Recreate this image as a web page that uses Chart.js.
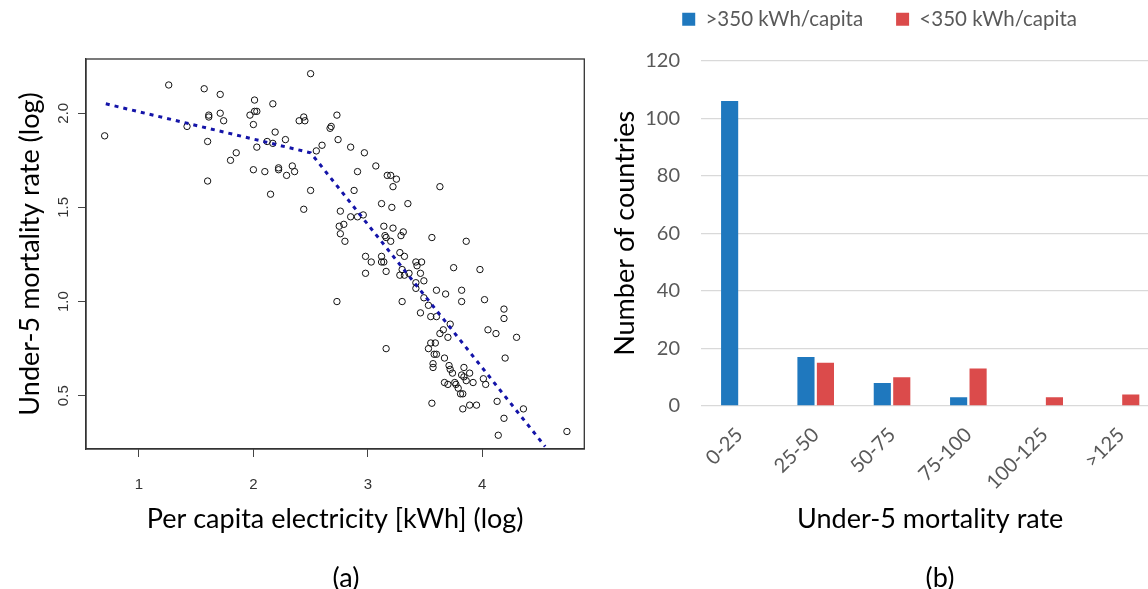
<!DOCTYPE html>
<html>
<head>
<meta charset="utf-8">
<script src="https://cdn.jsdelivr.net/npm/chart.js@4.4.1/dist/chart.umd.min.js"></script>
<style>
    html, body { margin: 0; padding: 0; background: #fff; }
    body { position: relative; width: 1148px; height: 589px; overflow: hidden; }
    .panel { position: absolute; }
    #wrap-a { left: 0; top: 0; width: 600px; height: 589px; }
    #wrap-b { left: 600px; top: -24px; width: 566px; height: 613px; }
    .caption { position: absolute; font-family: Lato, sans-serif; font-size: 27px; color: #000;
               transform: translate(-50%, -50%); white-space: nowrap; }
</style>
</head>
<body>
<div class="panel" id="wrap-a"><canvas id="scatterChart" width="600" height="589"></canvas></div>
<div class="panel" id="wrap-b"><canvas id="barChart" width="566" height="613"></canvas></div>
<div class="caption" style="left:346px; top:576px;">(a)</div>
<div class="caption" style="left:940px; top:576px;">(b)</div>

<script>
// --- (a) scatter: per capita electricity vs under-5 mortality (both log10) ---
const elecLog = [
    0.70, 1.26, 1.57, 1.71, 2.50, 2.01, 2.17, 1.61, 1.61, 1.71,
    1.74, 1.97, 2.01, 2.03, 2.00, 1.42, 2.19, 2.40, 2.44, 2.45,
    2.67, 2.68, 1.60, 2.12, 2.03, 2.28, 2.55, 2.60, 1.80, 1.85,
    2.00, 2.10, 2.22, 2.22, 2.29, 2.34, 2.36, 1.60, 2.15, 2.50,
    2.44, 2.73, 2.74, 2.17, 2.85, 2.97, 2.91, 3.07, 3.17, 3.20,
    3.25, 3.22, 3.63, 2.88, 3.12, 3.21, 3.35, 2.76, 2.85, 2.91,
    2.96, 2.75, 2.79, 2.76, 2.80, 3.14, 3.22, 3.15, 3.16, 3.20,
    3.29, 3.31, 3.56, 3.86, 2.98, 3.03, 2.98, 3.12, 3.12, 3.14,
    3.16, 3.28, 3.32, 3.28, 3.30, 3.32, 3.36, 3.42, 3.47, 3.43,
    3.46, 3.49, 3.42, 3.42, 3.75, 3.98, 2.73, 3.30, 3.49, 3.53,
    3.60, 3.68, 3.82, 3.82, 4.02, 3.46, 3.55, 3.60, 4.19, 4.19,
    3.72, 3.66, 3.70, 3.63, 4.05, 4.12, 4.30, 3.16, 3.55, 3.59,
    3.53, 3.58, 3.60, 3.67, 3.57, 3.57, 3.71, 3.72, 3.74, 3.84,
    3.89, 3.82, 3.84, 3.86, 3.92, 4.01, 4.03, 4.20, 3.67, 3.70,
    3.76, 3.77, 3.79, 3.81, 3.83, 3.56, 3.83, 3.89, 3.95, 4.13,
    4.19, 4.36, 4.14, 4.74
];
const mortLog = [
    1.88, 2.15, 2.13, 2.10, 2.21, 2.07, 2.05, 1.98, 1.99, 2.00,
    1.96, 1.99, 2.01, 2.01, 1.94, 1.93, 1.90, 1.96, 1.98, 1.96,
    1.92, 1.93, 1.85, 1.85, 1.82, 1.86, 1.80, 1.83, 1.75, 1.79,
    1.70, 1.69, 1.71, 1.70, 1.67, 1.72, 1.69, 1.64, 1.57, 1.59,
    1.49, 1.99, 1.86, 1.84, 1.82, 1.79, 1.69, 1.72, 1.67, 1.67,
    1.65, 1.61, 1.61, 1.59, 1.52, 1.50, 1.52, 1.48, 1.45, 1.45,
    1.46, 1.40, 1.41, 1.36, 1.32, 1.40, 1.39, 1.35, 1.34, 1.32,
    1.35, 1.37, 1.34, 1.32, 1.24, 1.21, 1.15, 1.24, 1.21, 1.21,
    1.16, 1.26, 1.24, 1.14, 1.17, 1.14, 1.15, 1.21, 1.21, 1.19,
    1.15, 1.11, 1.10, 1.07, 1.18, 1.17, 1.00, 1.00, 1.02, 0.98,
    1.06, 1.04, 1.06, 1.00, 1.01, 0.94, 0.92, 0.92, 0.96, 0.91,
    0.88, 0.85, 0.81, 0.83, 0.85, 0.83, 0.81, 0.75, 0.78, 0.78,
    0.75, 0.72, 0.72, 0.70, 0.67, 0.65, 0.66, 0.64, 0.62, 0.65,
    0.62, 0.61, 0.60, 0.58, 0.57, 0.59, 0.56, 0.70, 0.57, 0.56,
    0.57, 0.56, 0.54, 0.51, 0.51, 0.46, 0.43, 0.45, 0.45, 0.47,
    0.38, 0.43, 0.29, 0.31
];
// piecewise fit drawn as dotted blue line
const trendX = [0.71, 2.50, 4.55];
const trendY = [2.05, 1.79, 0.23];

const xTicksA = [1, 2, 3, 4];
const yTicksA = [0.5, 1.0, 1.5, 2.0];
const yTickLabelsA = ['0.5', '1.0', '1.5', '2.0'];

// --- (b) histogram of under-5 mortality by electricity group ---
const mortalityBins = ['0-25', '25-50', '50-75', '75-100', '100-125', '>125'];
const above350 = [106, 17, 8, 3, 0, 0];
const below350 = [0, 15, 10, 13, 3, 4];
const yTicksB = [0, 20, 40, 60, 80, 100, 120];

const titleFont = { family: 'Lato, sans-serif', size: 27, lineHeight: 1.2 };

// draws the closed frame around panel (a)
const frameBox = {
    id: 'frameBox',
    afterDraw(chart) {
        const { ctx, chartArea: a } = chart;
        ctx.save();
        ctx.strokeStyle = '#333';
        ctx.lineWidth = 1.3;
        ctx.strokeRect(a.left, a.top, a.right - a.left, a.bottom - a.top);
        ctx.restore();
    }
};

// gives the legend of panel (b) a fixed height so the plot sits lower
const legendHeight = {
    id: 'legendHeight',
    beforeLayout(chart) {
        const lg = chart.legend;
        if (lg && !lg._fixedFit) {
            const fit = lg.fit;
            lg.fit = function () { fit.call(this); this.height = 84.7; };
            lg._fixedFit = true;
        }
    }
};

new Chart(document.getElementById('scatterChart'), {
    type: 'scatter',
    data: {
        datasets: [{
            type: 'line',
            data: trendX.map((x, i) => ({ x, y: trendY[i] })),
            borderColor: '#1414a8',
            borderWidth: 3,
            borderDash: [4, 5],
            pointRadius: 0,
            fill: false,
            tension: 0
        }, {
            data: elecLog.map((x, i) => ({ x, y: mortLog[i] })),
            pointStyle: 'circle',
            pointRadius: 3.2,
            pointBorderWidth: 1,
            pointBorderColor: '#111',
            pointBackgroundColor: 'rgba(0,0,0,0)'
        }]
    },
    options: {
        responsive: false,
        animation: false,
        layout: { padding: { top: 59, right: 15.7, left: 0, bottom: 0 } },
        plugins: { legend: { display: false }, tooltip: { enabled: false } },
        scales: {
            x: {
                type: 'linear',
                min: 0.537, max: 4.892,
                afterBuildTicks: (s) => { s.ticks = xTicksA.map(v => ({ value: v })); },
                afterFit: (s) => { s.height = 140; },
                grid: { drawOnChartArea: false, tickLength: 8, color: '#444' },
                border: { color: '#333', width: 1.3 },
                ticks: {
                    padding: 19, color: '#333',
                    font: { family: 'Liberation Sans, sans-serif', size: 15 },
                    callback: (v) => String(v)
                },
                title: {
                    display: true, text: 'Per capita electricity [kWh] (log)',
                    color: '#000', font: titleFont, padding: { top: 0, bottom: 53.8 }
                }
            },
            y: {
                type: 'linear',
                min: 0.217, max: 2.288,
                afterBuildTicks: (s) => { s.ticks = yTicksA.map(v => ({ value: v })); },
                afterFit: (s) => { s.width = 86; },
                grid: { drawOnChartArea: false, tickLength: 8, color: '#444' },
                border: { color: '#333', width: 1.3 },
                ticks: {
                    padding: 4, color: '#333', minRotation: 90, maxRotation: 90,
                    crossAlign: 'center',
                    font: { family: 'Liberation Sans, sans-serif', size: 15 },
                    callback: (v, i) => yTickLabelsA[i]
                },
                title: {
                    display: true, text: 'Under-5 mortality rate (log)',
                    color: '#000', font: titleFont, padding: { top: 13.8, bottom: 0 }
                }
            }
        }
    },
    plugins: [frameBox]
});

new Chart(document.getElementById('barChart'), {
    type: 'bar',
    data: {
        labels: mortalityBins,
        datasets: [{
            label: '>350 kWh/capita',
            data: above350,
            backgroundColor: '#1f78be',
            borderWidth: 0
        }, {
            label: '<350 kWh/capita',
            data: below350,
            backgroundColor: '#db4b4b',
            borderWidth: 0
        }]
    },
    options: {
        responsive: false,
        animation: false,
        categoryPercentage: 0.51,
        barPercentage: 0.88,
        layout: { padding: { top: 0, right: 6.8, left: 0, bottom: 0 } },
        plugins: {
            tooltip: { enabled: false },
            legend: {
                position: 'top',
                labels: {
                    boxWidth: 13, boxHeight: 13, padding: 33, color: '#595959',
                    font: { family: 'Lato, sans-serif', size: 20.5 }
                }
            }
        },
        scales: {
            x: {
                afterFit: (s) => { s.height = 183; },
                grid: { display: false },
                border: { display: false },
                ticks: {
                    minRotation: 45, maxRotation: 45, padding: 9, color: '#595959',
                    font: { family: 'Lato, sans-serif', size: 20 }
                },
                title: {
                    display: true, text: 'Under-5 mortality rate',
                    color: '#000', font: titleFont, padding: { top: 0, bottom: 53.8 }
                }
            },
            y: {
                min: 0, max: 120,
                afterBuildTicks: (s) => { s.ticks = yTicksB.map(v => ({ value: v })); },
                afterFit: (s) => { s.width = 101.2; },
                grid: { color: '#d9d9d9', lineWidth: 1.3, drawTicks: false },
                border: { display: false },
                ticks: {
                    padding: 21.2, color: '#595959',
                    font: { family: 'Lato, sans-serif', size: 20 }
                },
                title: {
                    display: true, text: 'Number of countries',
                    color: '#000', font: titleFont, padding: { top: 8.8, bottom: 0 }
                }
            }
        }
    },
    plugins: [legendHeight]
});
</script>
</body>
</html>
